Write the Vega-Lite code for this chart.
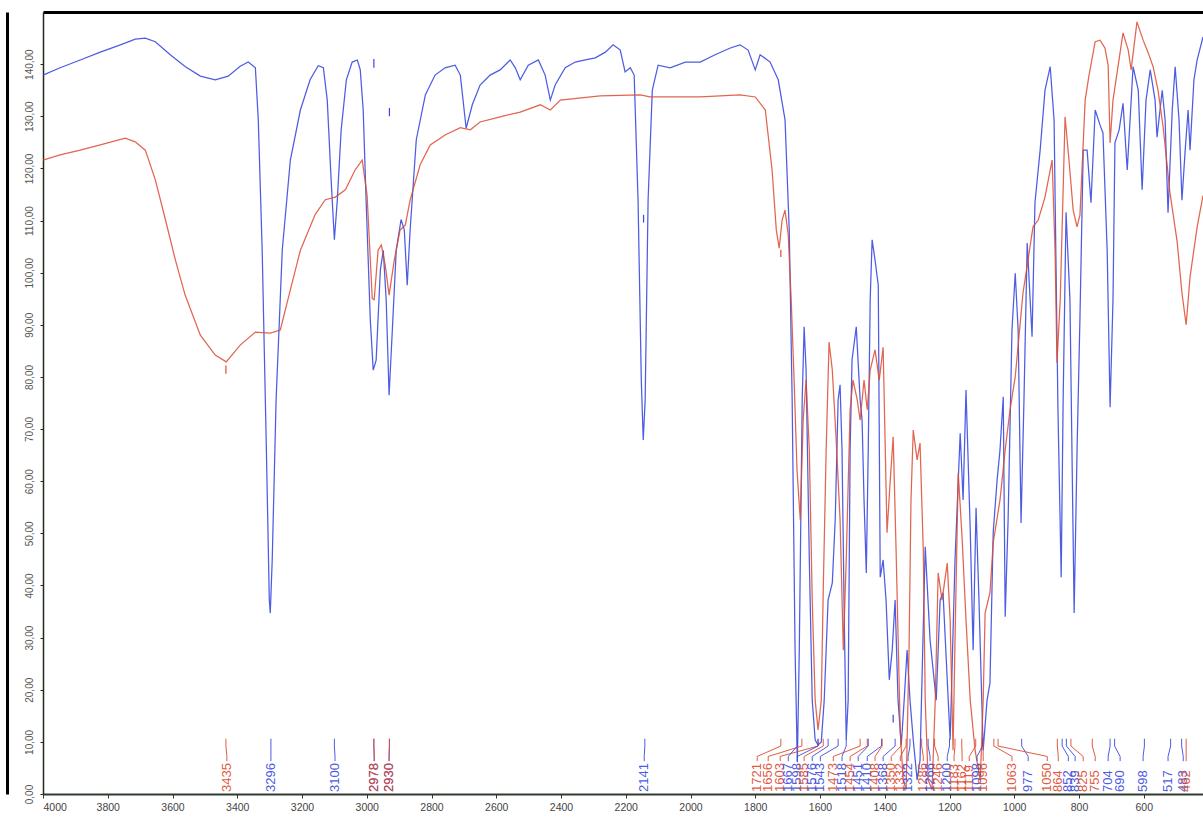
{
  "$schema": "https://vega.github.io/schema/vega-lite/v6.json",
  "autosize": "none",
  "width": 1160,
  "height": 782,
  "padding": {"left": 43, "top": 12, "right": 0, "bottom": 24},
  "background": "white",
  "config": {"view": {"stroke": null}, "axis": {"grid": false}},
  "datasets": {
    "blue": [
      {"w":4000,"t":137.9},{"w":3947,"t":139.3},{"w":3885,"t":140.8},{"w":3823,"t":142.3},{"w":3761,"t":143.7},{"w":3715,"t":144.8},{"w":3684,"t":145.0},{"w":3653,"t":144.3},{"w":3607,"t":141.8},{"w":3560,"t":139.5},{"w":3514,"t":137.7},{"w":3468,"t":137.0},{"w":3428,"t":137.7},{"w":3391,"t":139.6},{"w":3366,"t":140.4},{"w":3344,"t":139.3},{"w":3335,"t":129.3},{"w":3323,"t":104.3},{"w":3310,"t":66.0},{"w":3301,"t":37.2},{"w":3298,"t":34.7},{"w":3292,"t":44.9},{"w":3280,"t":75.6},{"w":3261,"t":104.3},{"w":3236,"t":121.6},{"w":3205,"t":131.2},{"w":3175,"t":137.0},{"w":3150,"t":139.7},{"w":3134,"t":139.3},{"w":3122,"t":133.1},{"w":3110,"t":117.8},{"w":3100,"t":106.3},{"w":3091,"t":113.9},{"w":3079,"t":127.4},{"w":3063,"t":137.0},{"w":3045,"t":140.4},{"w":3029,"t":140.8},{"w":3020,"t":138.9},{"w":3011,"t":131.2},{"w":3002,"t":113.9},{"w":2989,"t":90.9},{"w":2980,"t":81.3},{"w":2971,"t":83.2},{"w":2958,"t":100.5},{"w":2949,"t":104.3},{"w":2940,"t":94.8},{"w":2931,"t":76.5},{"w":2921,"t":89.0},{"w":2909,"t":104.3},{"w":2894,"t":110.2},{"w":2884,"t":108.2},{"w":2875,"t":97.6},{"w":2866,"t":108.2},{"w":2847,"t":125.5},{"w":2819,"t":134.1},{"w":2789,"t":137.9},{"w":2758,"t":139.3},{"w":2727,"t":139.8},{"w":2711,"t":137.9},{"w":2693,"t":127.7},{"w":2674,"t":132.2},{"w":2650,"t":136.0},{"w":2619,"t":137.9},{"w":2588,"t":138.9},{"w":2557,"t":140.8},{"w":2541,"t":139.3},{"w":2526,"t":137.0},{"w":2501,"t":139.8},{"w":2470,"t":140.8},{"w":2449,"t":137.9},{"w":2433,"t":133.1},{"w":2418,"t":136.0},{"w":2387,"t":139.3},{"w":2356,"t":140.4},{"w":2325,"t":140.8},{"w":2294,"t":141.2},{"w":2263,"t":142.3},{"w":2239,"t":143.7},{"w":2217,"t":142.7},{"w":2202,"t":138.5},{"w":2186,"t":139.3},{"w":2174,"t":137.9},{"w":2162,"t":113.9},{"w":2152,"t":79.4},{"w":2146,"t":67.9},{"w":2140,"t":75.6},{"w":2131,"t":113.9},{"w":2118,"t":135.0},{"w":2100,"t":139.8},{"w":2063,"t":139.3},{"w":2016,"t":140.4},{"w":1970,"t":140.4},{"w":1924,"t":141.8},{"w":1877,"t":143.1},{"w":1847,"t":143.7},{"w":1822,"t":142.7},{"w":1800,"t":138.9},{"w":1785,"t":141.8},{"w":1754,"t":140.4},{"w":1729,"t":137.0},{"w":1708,"t":129.3},{"w":1695,"t":108.2},{"w":1686,"t":75.6},{"w":1677,"t":27.6},{"w":1670,"t":6.1},{"w":1664,"t":27.6},{"w":1655,"t":75.6},{"w":1649,"t":89.6},{"w":1643,"t":81.3},{"w":1633,"t":44.9},{"w":1624,"t":18.0},{"w":1615,"t":10.4},{"w":1606,"t":9.4},{"w":1596,"t":10.0},{"w":1587,"t":18.0},{"w":1575,"t":37.2},{"w":1562,"t":40.5},{"w":1553,"t":52.6},{"w":1544,"t":75.6},{"w":1538,"t":78.5},{"w":1532,"t":66.0},{"w":1525,"t":33.4},{"w":1519,"t":10.4},{"w":1513,"t":18.0},{"w":1507,"t":66.0},{"w":1501,"t":83.3},{"w":1488,"t":89.6},{"w":1476,"t":75.6},{"w":1470,"t":71.7},{"w":1464,"t":56.4},{"w":1457,"t":42.4},{"w":1451,"t":66.0},{"w":1445,"t":94.8},{"w":1439,"t":106.3},{"w":1430,"t":102.4},{"w":1420,"t":97.6},{"w":1414,"t":41.6},{"w":1405,"t":44.9},{"w":1396,"t":37.2},{"w":1386,"t":21.9},{"w":1377,"t":27.6},{"w":1368,"t":37.2},{"w":1359,"t":18.0},{"w":1349,"t":9.4},{"w":1340,"t":18.0},{"w":1331,"t":27.6},{"w":1322,"t":18.0},{"w":1312,"t":10.4},{"w":1300,"t":2.7},{"w":1291,"t":6.5},{"w":1275,"t":47.4},{"w":1260,"t":29.5},{"w":1241,"t":18.0},{"w":1229,"t":37.2},{"w":1220,"t":38.6},{"w":1207,"t":21.9},{"w":1198,"t":10.4},{"w":1183,"t":44.9},{"w":1167,"t":69.2},{"w":1158,"t":56.4},{"w":1149,"t":77.5},{"w":1136,"t":50.7},{"w":1127,"t":27.6},{"w":1118,"t":54.9},{"w":1109,"t":37.2},{"w":1096,"t":8.4},{"w":1084,"t":18.0},{"w":1075,"t":21.3},{"w":1065,"t":50.2},{"w":1053,"t":60.2},{"w":1044,"t":66.0},{"w":1034,"t":76.2},{"w":1028,"t":34.0},{"w":1019,"t":52.6},{"w":1007,"t":89.0},{"w":997,"t":99.9},{"w":988,"t":89.0},{"w":979,"t":52.0},{"w":970,"t":75.6},{"w":960,"t":105.7},{"w":945,"t":87.7},{"w":936,"t":113.4},{"w":920,"t":123.5},{"w":905,"t":135.0},{"w":889,"t":139.5},{"w":877,"t":129.3},{"w":865,"t":73.7},{"w":855,"t":41.6},{"w":849,"t":75.6},{"w":840,"t":111.6},{"w":828,"t":94.8},{"w":815,"t":34.7},{"w":806,"t":66.0},{"w":797,"t":91.5},{"w":787,"t":123.5},{"w":775,"t":123.5},{"w":763,"t":113.4},{"w":750,"t":131.2},{"w":735,"t":128.3},{"w":726,"t":126.8},{"w":713,"t":104.3},{"w":704,"t":74.2},{"w":695,"t":94.8},{"w":689,"t":124.9},{"w":676,"t":127.4},{"w":664,"t":132.5},{"w":651,"t":119.7},{"w":633,"t":139.5},{"w":617,"t":135.0},{"w":605,"t":115.9},{"w":593,"t":133.1},{"w":580,"t":138.9},{"w":565,"t":133.1},{"w":559,"t":126.0},{"w":543,"t":135.0},{"w":534,"t":129.3},{"w":525,"t":111.5},{"w":512,"t":131.2},{"w":503,"t":139.5},{"w":491,"t":129.3},{"w":482,"t":113.9},{"w":472,"t":123.5},{"w":463,"t":131.2},{"w":457,"t":123.5},{"w":445,"t":137.0},{"w":435,"t":140.8},{"w":417,"t":145.2}
    ],
    "red": [
      {"w":4000,"t":121.6},{"w":3947,"t":122.6},{"w":3885,"t":123.5},{"w":3823,"t":124.5},{"w":3746,"t":125.8},{"w":3715,"t":125.1},{"w":3684,"t":123.5},{"w":3653,"t":117.8},{"w":3622,"t":110.2},{"w":3591,"t":102.4},{"w":3561,"t":95.7},{"w":3514,"t":88.0},{"w":3468,"t":84.2},{"w":3434,"t":82.9},{"w":3391,"t":86.1},{"w":3344,"t":88.6},{"w":3298,"t":88.4},{"w":3267,"t":89.0},{"w":3236,"t":96.7},{"w":3205,"t":104.3},{"w":3159,"t":111.2},{"w":3128,"t":114.0},{"w":3097,"t":114.5},{"w":3066,"t":115.9},{"w":3036,"t":119.7},{"w":3014,"t":121.6},{"w":2999,"t":114.9},{"w":2983,"t":95.0},{"w":2977,"t":94.8},{"w":2965,"t":104.3},{"w":2955,"t":105.3},{"w":2943,"t":101.5},{"w":2931,"t":95.7},{"w":2915,"t":102.4},{"w":2897,"t":108.2},{"w":2881,"t":109.1},{"w":2866,"t":113.9},{"w":2835,"t":120.7},{"w":2804,"t":124.5},{"w":2758,"t":126.4},{"w":2711,"t":127.8},{"w":2680,"t":127.4},{"w":2650,"t":128.9},{"w":2588,"t":129.9},{"w":2526,"t":130.8},{"w":2464,"t":132.2},{"w":2433,"t":131.2},{"w":2402,"t":133.1},{"w":2279,"t":133.9},{"w":2155,"t":134.1},{"w":2125,"t":133.7},{"w":1970,"t":133.7},{"w":1847,"t":134.1},{"w":1800,"t":133.7},{"w":1769,"t":131.2},{"w":1748,"t":119.7},{"w":1735,"t":108.2},{"w":1726,"t":104.7},{"w":1717,"t":110.1},{"w":1708,"t":112.0},{"w":1698,"t":107.2},{"w":1689,"t":94.8},{"w":1680,"t":79.4},{"w":1671,"t":62.2},{"w":1661,"t":52.6},{"w":1652,"t":71.7},{"w":1643,"t":79.4},{"w":1633,"t":66.0},{"w":1624,"t":37.2},{"w":1615,"t":18.0},{"w":1606,"t":12.3},{"w":1596,"t":18.0},{"w":1590,"t":39.1},{"w":1581,"t":66.0},{"w":1572,"t":86.7},{"w":1562,"t":81.3},{"w":1550,"t":67.9},{"w":1538,"t":52.6},{"w":1528,"t":27.6},{"w":1519,"t":44.9},{"w":1507,"t":73.7},{"w":1498,"t":79.4},{"w":1485,"t":75.6},{"w":1476,"t":71.7},{"w":1464,"t":79.4},{"w":1454,"t":73.7},{"w":1445,"t":81.3},{"w":1430,"t":85.2},{"w":1417,"t":79.4},{"w":1405,"t":85.7},{"w":1393,"t":50.1},{"w":1383,"t":60.2},{"w":1374,"t":68.5},{"w":1365,"t":46.8},{"w":1352,"t":11.7},{"w":1343,"t":2.7},{"w":1334,"t":0.8},{"w":1325,"t":27.6},{"w":1319,"t":56.4},{"w":1312,"t":69.8},{"w":1300,"t":64.1},{"w":1291,"t":67.3},{"w":1281,"t":46.8},{"w":1275,"t":18.0},{"w":1266,"t":2.7},{"w":1254,"t":0.8},{"w":1244,"t":18.0},{"w":1235,"t":42.4},{"w":1223,"t":37.2},{"w":1207,"t":44.3},{"w":1198,"t":33.4},{"w":1189,"t":8.4},{"w":1183,"t":29.5},{"w":1173,"t":61.6},{"w":1161,"t":49.0},{"w":1149,"t":33.4},{"w":1136,"t":18.0},{"w":1121,"t":8.4},{"w":1105,"t":2.7},{"w":1096,"t":18.0},{"w":1090,"t":34.7},{"w":1075,"t":38.6},{"w":1065,"t":48.2},{"w":1044,"t":56.4},{"w":1028,"t":66.0},{"w":1013,"t":73.7},{"w":997,"t":80.0},{"w":973,"t":96.1},{"w":942,"t":108.8},{"w":926,"t":110.1},{"w":905,"t":114.5},{"w":883,"t":121.6},{"w":874,"t":104.3},{"w":868,"t":82.7},{"w":858,"t":94.8},{"w":843,"t":129.9},{"w":831,"t":121.6},{"w":818,"t":112.0},{"w":806,"t":108.8},{"w":797,"t":111.1},{"w":781,"t":133.1},{"w":769,"t":137.9},{"w":750,"t":144.3},{"w":735,"t":144.6},{"w":720,"t":143.1},{"w":710,"t":139.8},{"w":704,"t":124.9},{"w":695,"t":133.1},{"w":682,"t":138.5},{"w":664,"t":146.0},{"w":648,"t":142.7},{"w":639,"t":138.9},{"w":621,"t":148.1},{"w":602,"t":144.6},{"w":587,"t":142.3},{"w":571,"t":139.5},{"w":556,"t":135.0},{"w":540,"t":127.9},{"w":519,"t":115.3},{"w":497,"t":106.0},{"w":482,"t":96.1},{"w":469,"t":90.0},{"w":457,"t":99.2},{"w":435,"t":108.8},{"w":417,"t":114.8}
    ],
    "marks": [
      {"c":"red","w":3435,"a":82.2,"b":80.6},
      {"c":"blue","w":2978,"a":141.0,"b":139.3},
      {"c":"blue","w":2930,"a":131.6,"b":130.0},
      {"c":"blue","w":2145,"a":111.1,"b":109.6},
      {"c":"red","w":1721,"a":104.4,"b":103.0},
      {"c":"blue","w":1374,"a":15.2,"b":13.7}
    ],
    "labels": [
      {"c":"red","p":3435,"l":3432,"txt":"3435"},
      {"c":"blue","p":3296,"l":3296,"txt":"3296"},
      {"c":"blue","p":3100,"l":3098,"txt":"3100"},
      {"c":"blue","p":2978,"l":2977,"txt":"2978"},
      {"c":"red","p":2978,"l":2977,"txt":"2978"},
      {"c":"blue","p":2930,"l":2931,"txt":"2930"},
      {"c":"red","p":2930,"l":2931,"txt":"2930"},
      {"c":"blue","p":2141,"l":2143,"txt":"2141"},
      {"c":"red","p":1721,"l":1794,"txt":"1721"},
      {"c":"red","p":1656,"l":1760,"txt":"1656"},
      {"c":"red","p":1606,"l":1723,"txt":"1603"},
      {"c":"blue","p":1670,"l":1698,"txt":"1667"},
      {"c":"blue","p":1606,"l":1670,"txt":"1598"},
      {"c":"red","p":1590,"l":1649,"txt":"1585"},
      {"c":"blue","p":1575,"l":1624,"txt":"1576"},
      {"c":"blue","p":1544,"l":1599,"txt":"1543"},
      {"c":"red","p":1476,"l":1559,"txt":"1473"},
      {"c":"blue","p":1519,"l":1532,"txt":"1518"},
      {"c":"red","p":1454,"l":1507,"txt":"1454"},
      {"c":"blue","p":1451,"l":1482,"txt":"1451"},
      {"c":"blue","p":1410,"l":1454,"txt":"1410"},
      {"c":"red","p":1408,"l":1430,"txt":"1408"},
      {"c":"blue","p":1368,"l":1405,"txt":"1368"},
      {"c":"red","p":1350,"l":1380,"txt":"1350"},
      {"c":"red","p":1334,"l":1352,"txt":"1332"},
      {"c":"blue","p":1322,"l":1328,"txt":"1322"},
      {"c":"red","p":1286,"l":1281,"txt":"1286"},
      {"c":"blue","p":1266,"l":1260,"txt":"1266"},
      {"c":"red","p":1246,"l":1235,"txt":"1246"},
      {"c":"blue","p":1200,"l":1207,"txt":"1200"},
      {"c":"red","p":1183,"l":1186,"txt":"1183"},
      {"c":"red","p":1162,"l":1161,"txt":"1162"},
      {"c":"red","p":1119,"l":1139,"txt":"1119"},
      {"c":"blue","p":1098,"l":1115,"txt":"1098"},
      {"c":"red","p":1096,"l":1096,"txt":"1096"},
      {"c":"red","p":1063,"l":1007,"txt":"1063"},
      {"c":"blue","p":977,"l":957,"txt":"977"},
      {"c":"red","p":1050,"l":898,"txt":"1050"},
      {"c":"red","p":867,"l":864,"txt":"864"},
      {"c":"blue","p":852,"l":833,"txt":"852"},
      {"c":"blue","p":839,"l":812,"txt":"839"},
      {"c":"red","p":825,"l":787,"txt":"825"},
      {"c":"red","p":759,"l":750,"txt":"755"},
      {"c":"blue","p":704,"l":710,"txt":"704"},
      {"c":"blue","p":690,"l":673,"txt":"690"},
      {"c":"blue","p":598,"l":602,"txt":"598"},
      {"c":"blue","p":517,"l":525,"txt":"517"},
      {"c":"blue","p":483,"l":478,"txt":"483"},
      {"c":"red","p":469,"l":469,"txt":"462"}
    ]
  },
  "resolve": {"axis": {"x": "independent", "y": "independent"}},
  "layer": [
    {
      "data": {"name": "blue"},
      "mark": {"type": "line", "color": "#3a4ae0", "strokeWidth": 1.25, "opacity": 0.9},
      "encoding": {
        "x": {"field": "w", "type": "quantitative", "scale": {"domain": [4000, 417], "nice": false, "zero": false},
          "axis": {"orient": "bottom", "values": [4000,3800,3600,3400,3200,3000,2800,2600,2400,2200,2000,1800,1600,1400,1200,1000,800,600], "format": "d", "title": null, "labelFlush": true, "domainColor": "#2f3a2f", "domainWidth": 2, "tickColor": "#2f3a2f", "tickSize": 4, "labelColor": "#444444", "labelFont": "Liberation Sans", "labelFontSize": 10.5, "labelPadding": 4}},
        "y": {"field": "t", "type": "quantitative", "scale": {"domain": [0, 150], "nice": false, "zero": false},
          "axis": {"orient": "left", "values": [0,10,20,30,40,50,60,70,80,90,100,110,120,130,140], "labelExpr": "replace(format(datum.value, '.2f'), '.', ',')", "title": null, "labelAngle": 270, "labelAlign": "center", "labelBaseline": "bottom", "labelPadding": 6, "labelColor": "#555555", "labelFont": "Liberation Sans", "labelFontSize": 10, "domainColor": "#1e2a1e", "domainWidth": 1.5, "tickColor": "#1e2a1e", "tickSize": 3}}
      }
    },
    {
      "data": {"name": "red"},
      "mark": {"type": "line", "color": "#dc4a30", "strokeWidth": 1.25, "opacity": 0.85},
      "encoding": {
        "x": {"field": "w", "type": "quantitative", "axis": null},
        "y": {"field": "t", "type": "quantitative", "axis": null}
      }
    },
    {
      "data": {"name": "marks"},
      "mark": {"type": "rule", "strokeWidth": 1.2},
      "encoding": {
        "x": {"field": "w", "type": "quantitative", "axis": null},
        "y": {"field": "a", "type": "quantitative", "axis": null},
        "y2": {"field": "b"},
        "color": {"field": "c", "type": "nominal", "scale": {"domain": ["blue", "red"], "range": ["#3a4ae0", "#dc4a30"]}, "legend": null}
      }
    },
    {
      "data": {"name": "labels"},
      "mark": {"type": "rule", "strokeWidth": 1, "opacity": 0.9},
      "encoding": {
        "x": {"field": "p", "type": "quantitative", "axis": null},
        "y": {"datum": 9.2, "type": "quantitative", "axis": null},
        "y2": {"datum": 10.6},
        "color": {"field": "c", "type": "nominal", "legend": null}
      }
    },
    {
      "data": {"name": "labels"},
      "mark": {"type": "rule", "strokeWidth": 1, "opacity": 0.9},
      "encoding": {
        "x": {"field": "p", "type": "quantitative", "axis": null},
        "x2": {"field": "l"},
        "y": {"datum": 9.2, "type": "quantitative", "axis": null},
        "y2": {"datum": 7.2},
        "color": {"field": "c", "type": "nominal", "legend": null}
      }
    },
    {
      "data": {"name": "labels"},
      "mark": {"type": "rule", "strokeWidth": 1, "opacity": 0.9},
      "encoding": {
        "x": {"field": "l", "type": "quantitative", "axis": null},
        "y": {"datum": 7.2, "type": "quantitative", "axis": null},
        "y2": {"datum": 6.3},
        "color": {"field": "c", "type": "nominal", "legend": null}
      }
    },
    {
      "data": {"name": "labels"},
      "mark": {"type": "text", "angle": 270, "align": "left", "baseline": "middle", "font": "Liberation Sans", "fontSize": 13, "opacity": 0.9},
      "encoding": {
        "x": {"field": "l", "type": "quantitative",
          "axis": {"orient": "top", "labels": false, "ticks": false, "title": null, "domainColor": "#000000", "domainWidth": 3}},
        "y": {"datum": 0.4, "type": "quantitative",
          "axis": {"orient": "left", "offset": 36, "labels": false, "ticks": false, "title": null, "domainColor": "#000000", "domainWidth": 3}},
        "text": {"field": "txt"},
        "color": {"field": "c", "type": "nominal", "legend": null}
      }
    }
  ]
}
